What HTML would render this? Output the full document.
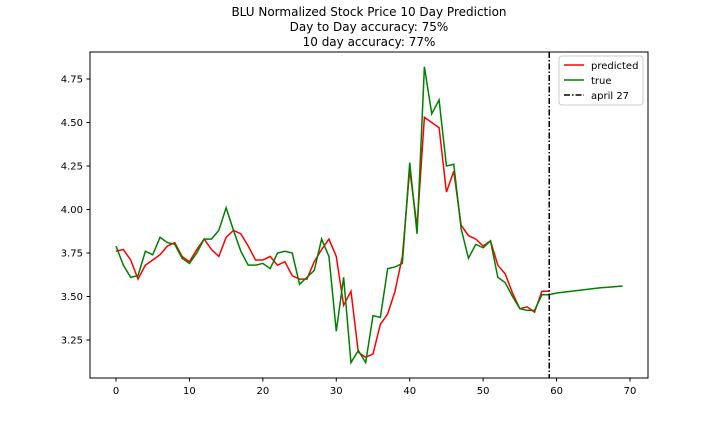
<!DOCTYPE html>
<html><head><meta charset="utf-8"><style>
body{margin:0;background:#fff;font-family:"Liberation Sans","DejaVu Sans",sans-serif}
svg text{font-family:"DejaVu Sans","Liberation Sans",sans-serif}
</style></head><body>
<svg id="chart" width="720" height="432">
<text x="369" y="16" font-size="12" text-anchor="middle">BLU Normalized Stock Price 10 Day Prediction</text>
<text x="369" y="31" font-size="12" text-anchor="middle">Day to Day accuracy: 75%</text>
<text x="369" y="46" font-size="12" text-anchor="middle">10 day accuracy: 77%</text>
<g id="marks"></g>
<rect x="90" y="52" width="558" height="326" fill="none" stroke="#000" stroke-width="1"/>
<g>
<rect x="559" y="56" width="84" height="49" rx="3" fill="#fff" stroke="#ccc"/>
<line x1="564" y1="65" x2="584" y2="65" stroke="red" stroke-width="1.5"/>
<text x="591" y="69" font-size="10">predicted</text>
<line x1="564" y1="80" x2="584" y2="80" stroke="green" stroke-width="1.5"/>
<text x="591" y="84" font-size="10">true</text>
<line x1="564" y1="95" x2="584" y2="95" stroke="#000" stroke-width="1.5" stroke-dasharray="6,2,1.5,2"/>
<text x="591" y="99" font-size="10">april 27</text>
</g>
</svg>
<script>
const xTicks=[0,10,20,30,40,50,60,70];
const yTicks=[3.25,3.5,3.75,4.0,4.25,4.5,4.75];
const yTickLabels=["3.25","3.50","3.75","4.00","4.25","4.50","4.75"];
const trueValues=[3.79,3.68,3.61,3.62,3.76,3.74,3.84,3.81,3.80,3.72,3.69,3.75,3.83,3.83,3.88,4.01,3.88,3.76,3.68,3.68,3.69,3.66,3.75,3.76,3.75,3.57,3.61,3.65,3.83,3.73,3.30,3.61,3.12,3.19,3.12,3.39,3.38,3.66,3.67,3.69,4.27,3.86,4.82,4.55,4.63,4.25,4.26,3.89,3.72,3.80,3.78,3.82,3.61,3.58,3.50,3.43,3.42,3.42,3.51,3.51,3.52,3.525,3.53,3.535,3.54,3.545,3.55,3.553,3.557,3.56];
const predictedValues=[3.76,3.77,3.71,3.60,3.68,3.71,3.74,3.79,3.81,3.73,3.70,3.77,3.83,3.77,3.73,3.84,3.88,3.86,3.79,3.71,3.71,3.73,3.68,3.70,3.62,3.60,3.60,3.70,3.77,3.83,3.73,3.45,3.53,3.18,3.15,3.17,3.34,3.40,3.53,3.73,4.23,3.90,4.53,4.50,4.47,4.10,4.22,3.91,3.85,3.83,3.79,3.82,3.68,3.63,3.52,3.43,3.44,3.41,3.53,3.53];
const markerX=59;
const xs=i=>116+i*(630-116)/70;
const ys=v=>79+(4.75-v)*(340-79)/1.5;
const NS="http://www.w3.org/2000/svg";
const svg=document.getElementById('chart');
const g=document.getElementById('marks');
function mk(t,a,p){const e=document.createElementNS(NS,t);for(const k in a)e.setAttribute(k,a[k]);(p||g).appendChild(e);return e;}
xTicks.forEach(t=>{
 const l=mk('line',{x1:xs(t),x2:xs(t),y1:378,y2:381.5,stroke:'#000'});
 
 
 const tx=mk('text',{x:xs(t),y:394,'font-size':10,'text-anchor':'middle'});
 tx.textContent=t;
 
 
});
yTicks.forEach((t,i)=>{
 const l=mk('line',{x1:86.5,x2:90,y1:ys(t),y2:ys(t),stroke:'#000'});
 
 
 const tx=mk('text',{x:83,y:ys(t)+3.5,'font-size':10,'text-anchor':'end'});
 tx.textContent=yTickLabels[i];
 
 
});
const pr=mk('polyline',{points:predictedValues.map((v,i)=>xs(i)+','+ys(v)).join(' '),fill:'none',stroke:'red','stroke-width':1.5});


const tr=mk('polyline',{points:trueValues.map((v,i)=>xs(i)+','+ys(v)).join(' '),fill:'none',stroke:'green','stroke-width':1.5});


const vl=mk('line',{x1:xs(markerX),x2:xs(markerX),y1:52,y2:378,stroke:'#000','stroke-width':1.5,'stroke-dasharray':'6,2,1.5,2'});


</script>
</body></html>
